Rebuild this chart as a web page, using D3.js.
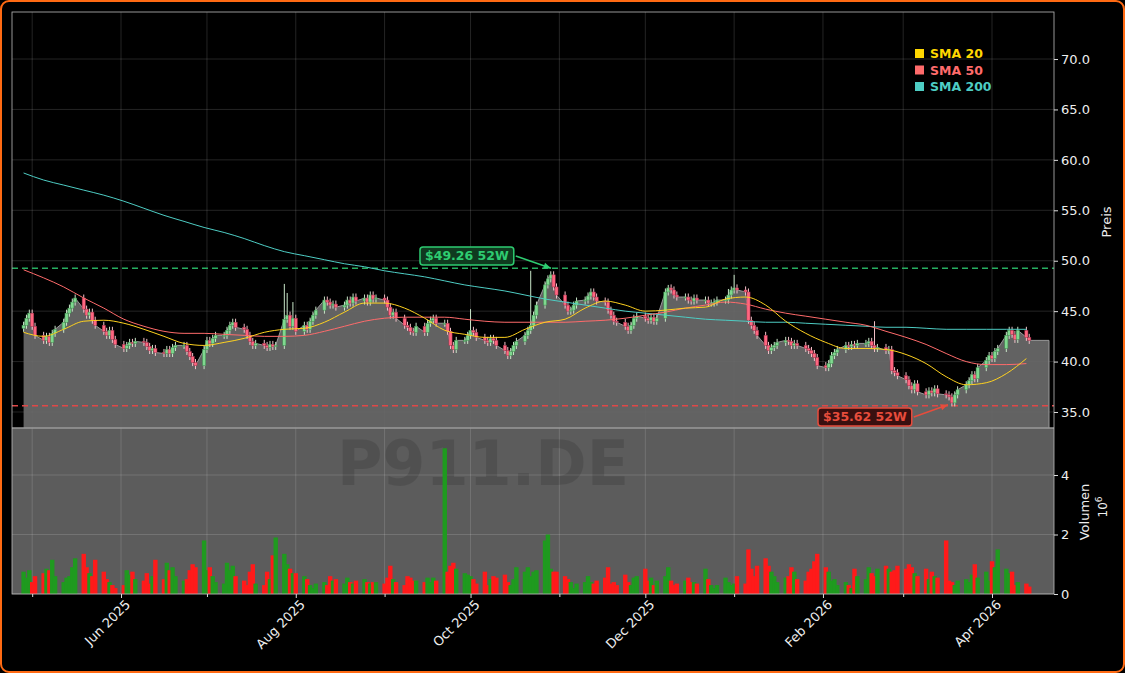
<!DOCTYPE html>
<html>
<head>
<meta charset="utf-8">
<script src="https://cdn.jsdelivr.net/npm/d3@7"></script>
<style>
  html, body { margin: 0; padding: 0; background: #000; }
  svg { display: block; font-family: 'DejaVu Sans', sans-serif; }
</style>
</head>
<body>
<svg id="chart" width="1125" height="673"></svg>
<script>
// daily closes, one row per week (Mon..Fri), starting 2025-04-28
var closes = [
  43.6, 44.3, 44.8, 43.5, 42.6,
  42.1, 42.5, 41.9, 42.8, 43.2,
  43.9, 44.8, 45.3, 45.9, 46.3,
  45.2, 44.6, 44.9, 44.1, 43.6,
  43.0, 42.6, 43.1, 42.2, 41.7,
  41.3, 41.6, 41.9, 41.8, 42.0,
  41.9, 41.5, 41.1, 41.3, 40.9,
  40.8, 41.2, 40.8, 41.4, 41.6,
  41.6, 41.0, 40.5, 39.9, 39.6,
  41.2, 42.1, 41.8, 42.3, 42.6,
  42.6, 43.1, 43.6, 43.9, 43.4,
  43.2, 42.6, 42.0, 41.6, 41.8,
  41.6, 41.4, 41.7, 41.5, 41.6,
  44.2, 44.6, 43.5, 44.3, 43.0,
  43.6, 43.2, 44.0, 44.6, 45.1,
  46.1, 45.9, 45.6, 45.7, 45.4,
  45.6, 46.1, 45.8, 46.4, 46.0,
  46.3, 45.9, 46.6, 46.2, 46.3,
  46.1, 45.4, 44.6, 44.9, 44.3,
  43.6, 43.4, 43.0, 42.9, 43.5,
  42.9, 43.8, 44.1, 44.3, 43.8,
  43.8, 43.0, 41.6, 41.2, 42.1,
  42.1, 42.6, 43.1, 42.9, 42.4,
  42.1, 41.9, 42.3, 42.1, 41.6,
  41.1, 40.6, 41.0, 41.6, 42.0,
  42.6, 43.1, 43.6, 44.6, 45.6,
  47.6, 48.2, 48.6, 47.4, 46.6,
  45.6, 45.0, 45.1, 45.6, 46.0,
  46.1, 46.5, 46.9, 46.4, 46.0,
  45.9, 45.1, 44.6, 44.0, 43.9,
  43.5, 43.1, 43.6, 44.3, 44.5,
  44.3, 44.1, 44.4, 44.0, 44.3,
  46.9, 47.3, 47.1, 46.6, 46.4,
  46.4, 46.1, 46.0, 46.3, 46.1,
  46.1, 45.8, 45.8, 45.9, 46.1,
  46.1, 46.6, 47.1, 47.3, 47.1,
  46.9, 44.1, 43.6, 43.1, 42.6,
  41.6, 41.1, 41.4, 41.6, 41.9,
  42.1, 42.0, 41.6, 41.8, 41.6,
  41.3, 41.1, 40.8, 40.4, 39.6,
  39.4, 39.8, 40.6, 40.9, 41.2,
  41.6, 41.5, 41.7, 41.6, 41.8,
  41.8, 42.0, 41.6, 41.3, 41.4,
  41.1, 41.2, 39.1, 38.9, 38.6,
  38.2, 37.6, 37.2, 37.8, 37.0,
  36.7, 37.1, 36.9, 37.3, 36.8,
  36.7, 36.5, 35.9, 36.7, 37.2,
  37.7, 38.1, 38.7, 38.3, 39.4,
  40.1, 40.6, 40.3, 41.0, 41.3,
  42.6, 43.1, 42.7, 42.2, 43.1,
  42.4, 42.1
]

// volume in millions
var volumes = [
  .75, .55, .8, .4, .6,
  .7, .85, .8, 1.15, .6,
  .4, .55, .6, .9, 1.2,
  1.35, .9, .7, .6, 1.15,
  .75, .5, .4, .3, .2,
  .3, .8, .65, .75, .5,
  .45, .7, .35, .6, 1.15,
  .5, 1.05, .8, .9, .6,
  .45, .5, .8, 1.0, .9,
  1.8, .8, .9, .6, .4,
  .35, 1.05, .8, .95, .6,
  .45, .3, .75, 1.0, .35,
  .3, .75, .5, 1.3, 1.9,
  1.35, 1.0, .85, .7, .7,
  .6, .5, .3, .2, .35,
  .4, .3, .6, .45, .5,
  .35, .55, .4, .35, .45,
  .5, .4, .35, .4, .4,
  .35, .55, .95, .5, .4,
  .3, .6, .55, .45, .45,
  .4, .55, .4, .55, .45,
  4.9, .75, .95, 1.05, .85,
  .7, .65, .6, .5, .35,
  .75, .3, .5, .6, .55,
  .65, .4, .3, .5, .9,
  .75, .9, .6, .75, .8,
  1.8, 2.0, .85, .75, .75,
  .6, .5, .4, .2, .35,
  .4, .6, .4, .35, .45,
  .55, .9, .35, .4, .3,
  .65, .4, .3, .55, .6,
  .85, .45, .55, .3, .45,
  .6, .9, .45, .3, .35,
  .45, .55, .4, .4, .35,
  .85, .5, .3, .2, .3,
  .55, .4, .3, .35, .6,
  .35, 1.5, .85, .6, .95,
  1.2, .95, .75, .6, .4,
  .55, .6, .9, .75, .5,
  .45, .75, .85, 1.1, 1.35,
  .9, .75, .45, .5, .3,
  .4, .3, .2, .85, .6,
  .5, .9, .7, .6, .85,
  .95, .85, .75, .8, .95,
  .85, 1.0, .9, .7, .6,
  .85, .5, .75, .6, .55,
  1.8, .45, .4, .3, .45,
  .5, .4, .65, 1.0, .55,
  .75, .45, 1.1, .9, 1.5,
  .85, .7, .75, .3, .4,
  .35, .25
]

// extra-long upper wicks (day index -> high)
var spikeHighs = { 65: 47.7, 66: 46.8, 68: 45.9, 112: 45.2, 127: 49.0, 161: 47.6, 176: 47.2, 178: 48.6, 213: 44.0 }

// weekly moving averages (Mondays)
var sma20 = [42.9, 42.5, 43.2, 44.0, 44.1, 43.8, 43.2, 42.5, 41.8, 41.6, 41.9, 42.3, 42.9, 43.2, 43.3, 43.9, 44.9,
  45.8, 45.8, 45.3, 44.3, 43.1, 42.7, 42.4, 42.4, 43.2, 43.9, 44.2, 45.3, 46.0, 45.6, 45.0, 45.1, 45.3, 45.4,
  46.2, 46.4, 45.6, 44.0, 42.8, 41.9, 41.3, 41.3, 41.2, 40.7, 39.8, 38.5, 37.7, 37.9, 38.8, 40.3]
var sma50 = [49.1, 48.3, 47.4, 46.3, 45.3, 44.2, 43.5, 43.0, 42.8, 42.8, 42.7, 42.6, 42.5, 42.5, 42.6, 43.0, 43.5,
  44.0, 44.3, 44.4, 44.4, 44.4, 44.2, 44.0, 43.9, 43.9, 43.9, 43.9, 44.0, 44.1, 44.3, 44.6, 44.9, 45.3, 45.6,
  45.9, 45.7, 45.2, 44.8, 44.5, 44.2, 43.9, 43.6, 43.0, 42.4, 41.7, 40.8, 40.0, 39.7, 39.7, 39.8]
var sma200 = [58.7, 58.0, 57.5, 57.0, 56.5, 55.9, 55.2, 54.5, 53.9, 53.3, 52.8, 52.2, 51.5, 50.9, 50.5, 50.1, 49.7,
  49.4, 49.0, 48.7, 48.4, 48.0, 47.6, 47.3, 47.0, 46.6, 46.2, 45.9, 45.6, 45.3, 45.0, 44.8, 44.6, 44.4, 44.2,
  44.1, 44.0, 43.9, 43.9, 43.8, 43.7, 43.6, 43.5, 43.4, 43.4, 43.3, 43.2, 43.2, 43.2, 43.2, 43.2]

var high52 = 49.26
var low52 = 35.62
var priceTicks = [35, 40, 45, 50, 55, 60, 65, 70]
var volTicks = [0, 2, 4]
var monthTicks = ['2025-06-01', '2025-08-01', '2025-10-01', '2025-12-01', '2026-02-01', '2026-04-01']
var minorTicks = ['2025-05-01', '2025-07-01', '2025-09-01', '2025-11-01', '2026-01-01', '2026-03-01']

var parse = d3.utcParse('%Y-%m-%d')

// trading days: weekdays from the first Monday
var dates = []
var d0 = parse('2025-04-28')
for (var t = new Date(d0); dates.length < closes.length; t = d3.utcDay.offset(t, 1)) {
  if (t.getUTCDay() !== 0 && t.getUTCDay() !== 6) dates.push(new Date(t))
}
var weeks = sma20.map((v, i) => d3.utcWeek.offset(d0, i))

var bars = closes.map((c, i) => {
  var o = i === 0 ? 43.3 : closes[i - 1]
  var hi = spikeHighs[i] || Math.max(o, c) + 0.35
  return { date: dates[i], open: o, close: c, high: hi, low: Math.min(o, c) - 0.35, vol: volumes[i] }
})

var svg = d3.select('#chart')
var L = 12, R = 1054, pTop = 12, pBot = 428, vBot = 594

// outer frame
svg.append('rect').attr('x', 1).attr('y', 1).attr('width', 1123).attr('height', 671)
  .attr('rx', 8).attr('fill', '#000').attr('stroke', '#ff6a13').attr('stroke-width', 2)

var x = d3.scaleUtc().domain([parse('2025-04-27'), parse('2026-05-03')]).range([L, R])
// tune so Jun 1 -> 121, Apr 1 2026 -> 992
x.domain([
  new Date(+parse('2025-06-01') - (121 - L) / (992 - 121) * (parse('2026-04-01') - parse('2025-06-01'))),
  new Date(+parse('2026-04-01') + (R - 992) / (992 - 121) * (parse('2026-04-01') - parse('2025-06-01')))
])
var y = d3.scaleLinear().domain([35 - (pBot - 412) / 10.08, 70 + (59 - pTop) / 10.08]).range([pBot, pTop])
var yv = d3.scaleLinear().domain([0, 4]).range([vBot, 475])

// volume panel background
svg.append('rect').attr('x', L).attr('y', pBot).attr('width', R - L).attr('height', vBot - pBot).attr('fill', '#5c5c5c')

// grid
var grid = svg.append('g').attr('stroke', '#fff').attr('stroke-opacity', 0.18).attr('stroke-width', 0.8)
monthTicks.concat(minorTicks).forEach(m => {
  grid.append('line').attr('x1', x(parse(m))).attr('x2', x(parse(m))).attr('y1', pTop).attr('y2', vBot)
})
priceTicks.forEach(p => grid.append('line').attr('x1', L).attr('x2', R).attr('y1', y(p)).attr('y2', y(p)))
volTicks.forEach(v => grid.append('line').attr('x1', L).attr('x2', R).attr('y1', yv(v)).attr('y2', yv(v)))

// watermarks
svg.append('text').attr('x', 533).attr('y', 352).attr('text-anchor', 'middle')
  .attr('font-size', 58).attr('font-weight', 'bold').attr('fill', '#000').attr('opacity', 0.12)
  .text('KSignalTrader')
svg.append('text').attr('x', 483).attr('y', 485).attr('text-anchor', 'middle')
  .attr('font-size', 62).attr('font-weight', 'bold').attr('fill', '#000').attr('opacity', 0.12)
  .text('P911.DE')

// grey close area
var lastX = 1049
var area = d3.area().x(d => x(d.date)).y0(pBot).y1(d => y(d.close))
var areaPts = bars.concat([{ date: x.invert(lastX), close: closes[closes.length - 1] }])
svg.append('path').datum(areaPts).attr('d', area).attr('fill', '#6a6a6a').attr('fill-opacity', 0.92)
svg.append('path').datum(areaPts).attr('d', d3.line().x(d => x(d.date)).y(d => y(d.close)))
  .attr('fill', 'none').attr('stroke', '#9a9a9a').attr('stroke-width', 1)
svg.append('line').attr('x1', lastX).attr('x2', lastX).attr('y1', y(closes[closes.length - 1])).attr('y2', pBot)
  .attr('stroke', '#9a9a9a')

// panel separator
svg.append('line').attr('x1', L).attr('x2', R).attr('y1', pBot).attr('y2', pBot).attr('stroke', '#9a9a9a').attr('stroke-width', 1.5)

// volume bars
svg.append('g').selectAll('rect').data(bars).join('rect')
  .attr('x', d => x(d.date) - 2.2).attr('width', 4.4)
  .attr('y', d => yv(d.vol)).attr('height', d => vBot - yv(d.vol))
  .attr('fill', d => d.close >= d.open ? '#1f9a1f' : '#ff1a1a')

// 52W lines
svg.append('line').attr('x1', L).attr('x2', R).attr('y1', y(high52)).attr('y2', y(high52))
  .attr('stroke', '#27ae60').attr('stroke-width', 1.5).attr('stroke-dasharray', '6,4')
svg.append('line').attr('x1', L).attr('x2', R).attr('y1', y(low52)).attr('y2', y(low52))
  .attr('stroke', '#e04848').attr('stroke-width', 1.5).attr('stroke-dasharray', '6,4')

// candles
var cg = svg.append('g')
bars.forEach(d => {
  var up = d.close >= d.open
  var cx = x(d.date)
  cg.append('line').attr('x1', cx).attr('x2', cx).attr('y1', y(d.high)).attr('y2', y(d.low))
    .attr('stroke', up ? '#c8e6c8' : '#f2c0c8').attr('stroke-width', 1)
  var top = y(Math.max(d.open, d.close)), bot = y(Math.min(d.open, d.close))
  cg.append('rect').attr('x', cx - 1.6).attr('width', 3.2).attr('y', top).attr('height', Math.max(1, bot - top))
    .attr('fill', up ? '#7fd88f' : '#ff6680').attr('stroke', up ? '#3c8c4c' : '#a0304a').attr('stroke-width', 0.5)
})

// moving averages
var maLine = d3.line().x((d, i) => x(weeks[i])).y(d => y(d)).curve(d3.curveMonotoneX)
var maDefs = [[sma200, '#4ecdc4', 'SMA 200'], [sma50, '#ff6b6b', 'SMA 50'], [sma20, '#ffd21f', 'SMA 20']]
maDefs.forEach(m => {
  svg.append('path').datum(m[0]).attr('d', maLine).attr('fill', 'none').attr('stroke', m[1]).attr('stroke-width', 1)
})

// legend
var legend = [['SMA 20', '#ffd700'], ['SMA 50', '#ff6b6b'], ['SMA 200', '#4ecdc4']]
legend.forEach((l, i) => {
  svg.append('rect').attr('x', 915).attr('y', 49 + i * 16.5).attr('width', 9).attr('height', 9).attr('fill', l[1])
  svg.append('text').attr('x', 930).attr('y', 58 + i * 16.5).attr('font-size', 12.5).attr('font-weight', 'bold')
    .attr('fill', l[1]).text(l[0])
})

// annotations
function note(label, bx, by, tx, ty, fg, bg) {
  var g = svg.append('g')
  var txt = g.append('text').attr('x', bx + 5).attr('y', by + 13).attr('font-size', 12.5).attr('font-weight', 'bold')
    .attr('fill', fg).text(label)
  var w = txt.node().getComputedTextLength() + 10
  g.insert('rect', 'text').attr('x', bx).attr('y', by).attr('width', w).attr('height', 18).attr('rx', 3)
    .attr('fill', bg).attr('stroke', fg).attr('stroke-width', 1.5)
  var sx = bx + w + 2, sy = by + 9
  g.append('line').attr('x1', sx).attr('y1', sy).attr('x2', tx).attr('y2', ty).attr('stroke', fg).attr('stroke-width', 1.5)
  var ang = Math.atan2(ty - sy, tx - sx)
  var p = [[tx, ty], [tx - 8 * Math.cos(ang - 0.4), ty - 8 * Math.sin(ang - 0.4)], [tx - 8 * Math.cos(ang + 0.4), ty - 8 * Math.sin(ang + 0.4)]]
  g.append('path').attr('d', d3.line()(p) + 'Z').attr('fill', fg)
}
note('$' + high52.toFixed(2) + ' 52W', 420, 247, 551, y(high52), '#2ecc71', '#0f3a1f')
note('$' + low52.toFixed(2) + ' 52W', 818, 408, 948, y(low52) - 1, '#e74c3c', '#3a1010')

// plot frame
svg.append('rect').attr('x', L).attr('y', pTop).attr('width', R - L).attr('height', vBot - pTop)
  .attr('fill', 'none').attr('stroke', '#bbb').attr('stroke-width', 0.8)

// axes
var ax = svg.append('g').attr('transform', `translate(${R},0)`)
  .call(d3.axisRight(y).tickValues(priceTicks).tickFormat(d3.format('.1f')).tickSize(4))
var av = svg.append('g').attr('transform', `translate(${R},0)`)
  .call(d3.axisRight(yv).tickValues(volTicks).tickFormat(d3.format('d')).tickSize(4))
var axx = svg.append('g').attr('transform', `translate(0,${vBot})`)
  .call(d3.axisBottom(x).tickValues(monthTicks.map(parse)).tickFormat(d3.utcFormat('%b %Y')).tickSize(4))
svg.append('g').attr('transform', `translate(0,${vBot})`)
  .call(d3.axisBottom(x).tickValues(minorTicks.map(parse)).tickFormat('').tickSize(3))
  .call(g => g.select('.domain').remove()).selectAll('line').attr('stroke', '#ddd')
;[ax, av, axx].forEach(g => {
  g.select('.domain').remove()
  g.selectAll('line').attr('stroke', '#ddd')
  g.selectAll('text').attr('fill', '#eee').attr('font-size', 13).attr('font-family', 'DejaVu Sans')
})
axx.selectAll('text').attr('text-anchor', 'end').attr('dx', '-0.1em').attr('dy', '0.6em')
  .attr('transform', 'rotate(-45)')

svg.append('text').attr('transform', 'translate(1111,222) rotate(-90)').attr('text-anchor', 'middle')
  .attr('font-size', 13).attr('fill', '#eee').text('Preis')
svg.append('text').attr('transform', 'translate(1089,512) rotate(-90)').attr('text-anchor', 'middle')
  .attr('font-size', 13).attr('fill', '#eee').text('Volumen')
svg.append('text').attr('transform', 'translate(1107,507) rotate(-90)').attr('text-anchor', 'middle')
  .attr('font-size', 12).attr('fill', '#eee').html('10<tspan dy="-5" font-size="9">6</tspan>')
</script>
</body>
</html>
